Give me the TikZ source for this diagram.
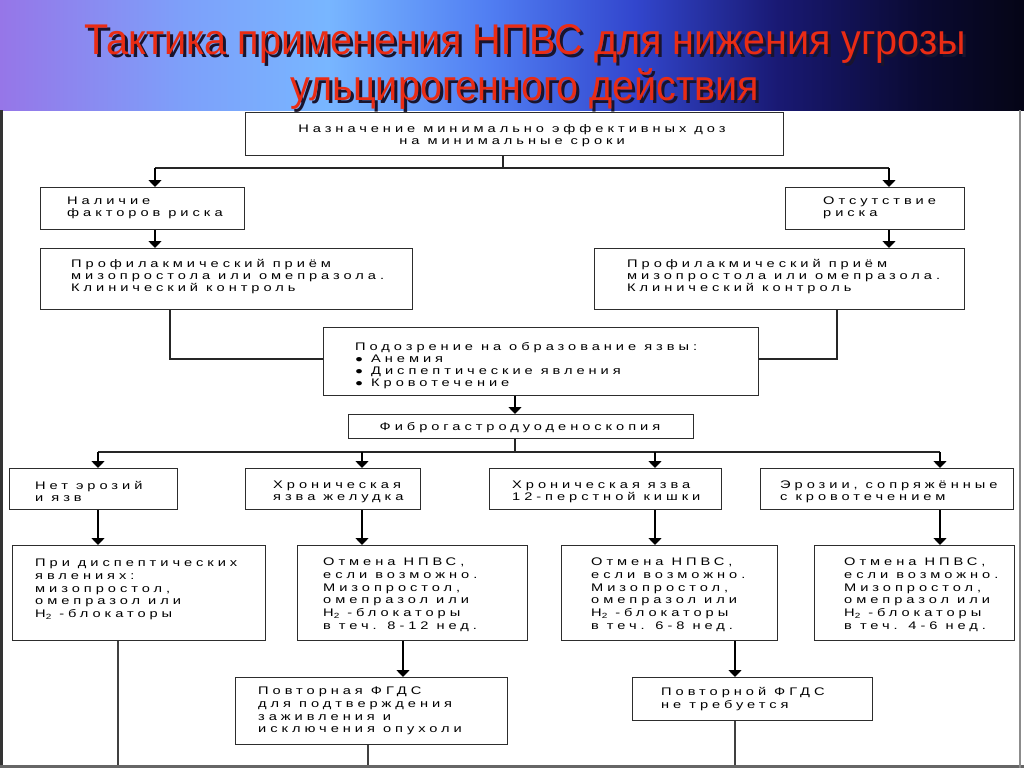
\documentclass[tikz,border=0pt]{standalone}
\usepackage{fontspec}
\setmainfont{Liberation Sans}
\newfontfamily\bxf[LetterSpace=36,FakeStretch=1.33]{Liberation Sans}
\newfontfamily\ttlf[FakeStretch=0.92]{Liberation Sans}
\usetikzlibrary{arrows.meta,calc}
\definecolor{ttlred}{RGB}{234,44,20}
\definecolor{ttlshadow}{RGB}{25,20,45}
\definecolor{h0}{RGB}{150,118,232}
\definecolor{h1}{RGB}{125,160,250}
\definecolor{h2}{RGB}{120,182,255}
\definecolor{h3}{RGB}{80,125,242}
\definecolor{h4}{RGB}{50,70,205}
\definecolor{h5}{RGB}{25,25,115}
\definecolor{h6}{RGB}{10,10,50}
\definecolor{h7}{RGB}{5,5,22}
\definecolor{bord}{RGB}{45,45,45}
\pgfdeclarehorizontalshading{hdr}{100bp}{color(0bp)=(h0); color(25bp)=(h0); color(34bp)=(h1); color(41bp)=(h2); color(49bp)=(h3); color(56bp)=(h4); color(63bp)=(h5); color(70bp)=(h6); color(75bp)=(h7); color(100bp)=(h7)}
\newcommand\mkbox[5]{\node[box, minimum width={#4-#2}, minimum height={#5-#3}] (#1) at (#2,-#3) {};}
\newcommand\bul{{\fontsize{10}{10}\selectfont●}\hspace{8pt}}
\newcommand\Hsub{Н\raisebox{-2pt}{\fontsize{7.5}{7.5}\selectfont 2} -блокаторы}
\begin{document}
\begin{tikzpicture}[x=1pt,y=1pt,
  box/.style={draw=bord, line width=1.2pt, fill=white, inner sep=0pt, anchor=north west},
  txt/.style={font=\bxf\fontsize{11}{12.7}\selectfont, align=left, anchor=north west, inner sep=0pt},
  txtu/.style={txt, font=\bxf\fontsize{11}{12}\selectfont},
  ctxt/.style={txtu, align=center, anchor=north},
  arr/.style={line width=1.5pt, draw=black, -{Triangle[width=13pt,length=7pt]}},
  ln/.style={line width=1.2pt, draw=black!85},
  dln/.style={line width=1.5pt, draw=black!75},
  ttl/.style={font=\ttlf\fontsize{43}{48}\selectfont, anchor=base, inner sep=0pt}]
\useasboundingbox (0,0) rectangle (1024,-768);
% background
\fill[white] (0,0) rectangle (1024,-768);
\shade[shading=hdr] (0,0) rectangle (1024,-110);
\fill[black!80] (0,-110) rectangle (3,-768);
\fill[black!60] (0,-765) rectangle (1024,-768);
\fill[black!45] (1019,-110) rectangle (1021,-768);
% title
\node[ttl, text=ttlshadow] (t1s) at (528,-58) {Тактика применения НПВС для нижения угрозы};
\node[ttl, text=ttlred] (t1) at (525,-55) {Тактика применения НПВС для нижения угрозы};
\node[ttl, text=ttlshadow] (t2s) at (528,-103) {ульцирогенного действия};
\node[ttl, text=ttlred] (t2) at (525,-100) {ульцирогенного действия};
% boxes
\mkbox{top}{245}{112}{783}{155}
\mkbox{risk}{40}{187}{244}{229}
\mkbox{norisk}{785}{187}{964}{229}
\mkbox{prL}{40}{248}{412}{309}
\mkbox{prR}{594}{248}{964}{309}
\mkbox{susp}{323}{327}{758}{395}
\mkbox{fgds}{348}{414}{693}{438}
\mkbox{bA}{9}{468}{177}{509}
\mkbox{bB}{245}{468}{420}{509}
\mkbox{bC}{489}{468}{721}{509}
\mkbox{bD}{760}{468}{1013}{509}
\mkbox{cA}{12}{545}{265}{640}
\mkbox{cB}{297}{545}{527}{640}
\mkbox{cC}{561}{545}{777}{640}
\mkbox{cD}{814}{545}{1014}{640}
\mkbox{dE}{235}{677}{507}{744}
\mkbox{dF}{632}{677}{872}{720}
% texts
\node[ctxt] (ttop) at (512,-124) {Назначение минимально эффективных доз\\на минимальные сроки};
\node[txtu] (trisk) at (67,-197) {Наличие\\факторов риска};
\node[txtu] (tnorisk) at (823,-197) {Отсутствие\\риска};
\node[txtu] (tprL) at (71,-259) {Профилакмический приём\\мизопростола или омепразола.\\Клинический контроль};
\node[txtu] (tprR) at (627,-259) {Профилакмический приём\\мизопростола или омепразола.\\Клинический контроль};
\node[txtu] (tsusp) at (355,-342) {Подозрение на образование язвы:\\\bul Анемия\\\bul Диспептические явления\\\bul Кровотечение};
\node[ctxt] (tfgds) at (520,-422) {Фиброгастродуоденоскопия};
\node[txtu] (tA) at (35,-481) {Нет эрозий\\и язв};
\node[txtu] (tB) at (273,-481) {Хроническая\\язва желудка};
\node[txtu] (tC) at (512,-481) {Хроническая язва\\12-перстной  кишки};
\node[txtu] (tD) at (780,-481) {Эрозии, сопряжённые\\с кровотечением};
\node[txt] (tcA) at (35,-559) {При диспептических\\явлениях:\\мизопростол,\\омепразол или\\\Hsub};
\node[txt] (tcB) at (323,-558) {Отмена НПВС,\\если возможно.\\Мизопростол,\\омепразол или\\\Hsub\\в теч. 8-12 нед.};
\node[txt] (tcC) at (591,-558) {Отмена НПВС,\\если возможно.\\Мизопростол,\\омепразол или\\\Hsub\\в теч. 6-8 нед.};
\node[txt] (tcD) at (844,-558) {Отмена НПВС,\\если возможно.\\Мизопростол,\\омепразол или\\\Hsub\\в теч. 4-6 нед.};
\node[txt] (tdE) at (258,-687) {Повторная ФГДС\\для подтверждения\\заживления и\\исключения опухоли};
\node[txt] (tdF) at (661,-687) {Повторной ФГДС\\не требуется};
% junction coordinates
\coordinate (j1) at (503,-168);
\coordinate (xL) at (155,0);
\coordinate (xR) at (889,0);
\coordinate (k1) at (170,-359);
\coordinate (k2) at (837,-359);
\coordinate (xm) at (515,0);
\coordinate (j2) at (515,-452);
\coordinate (xa) at (98,0);
\coordinate (xb) at (362,0);
\coordinate (xc) at (655,0);
\coordinate (xd) at (940,0);
\coordinate (xe) at (403,0);
\coordinate (xf) at (735,0);
\coordinate (xg) at (118,0);
\coordinate (xh) at (368,0);
\coordinate (bot) at (0,-765);
% connectors
\draw[ln] (top.south -| j1) -- (j1);
\draw[ln] (xL |- j1) -- (xR |- j1);
\draw[arr] (xL |- j1) -- (xL |- risk.north);
\draw[arr] (xR |- j1) -- (xR |- norisk.north);
\draw[arr] (xL |- risk.south) -- (xL |- prL.north);
\draw[arr] (xR |- norisk.south) -- (xR |- prR.north);
\draw[ln] (k1 |- prL.south) -- (k1) -- (susp.west |- k1);
\draw[ln] (k2 |- prR.south) -- (k2) -- (susp.east |- k2);
\draw[arr] (xm |- susp.south) -- (xm |- fgds.north);
\draw[ln] (xm |- fgds.south) -- (j2);
\draw[ln] (xa |- j2) -- (xd |- j2);
\draw[arr] (xa |- j2) -- (xa |- bA.north);
\draw[arr] (xb |- j2) -- (xb |- bB.north);
\draw[arr] (xc |- j2) -- (xc |- bC.north);
\draw[arr] (xd |- j2) -- (xd |- bD.north);
\draw[arr] (xa |- bA.south) -- (xa |- cA.north);
\draw[arr] (xb |- bB.south) -- (xb |- cB.north);
\draw[arr] (xc |- bC.south) -- (xc |- cC.north);
\draw[arr] (xd |- bD.south) -- (xd |- cD.north);
\draw[arr] (xe |- cB.south) -- (xe |- dE.north);
\draw[arr] (xf |- cC.south) -- (xf |- dF.north);
\draw[dln] (xg |- cA.south) -- (xg |- bot);
\draw[dln] (xh |- dE.south) -- (xh |- bot);
\draw[dln] (xf |- dF.south) -- (xf |- bot);
\end{tikzpicture}
\end{document}
